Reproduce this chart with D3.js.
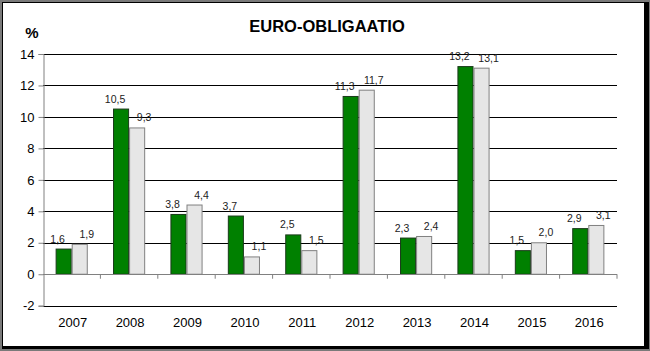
<!DOCTYPE html>
<html>
<head>
<meta charset="utf-8">
<script src="https://cdn.jsdelivr.net/npm/d3@7"></script>
<style>
  body { margin: 0; background: #fff; }
  svg { display: block; font-family: "Liberation Sans", Arial, sans-serif; }
</style>
</head>
<body>
<div id="chart"></div>
<script>
// chart data
const years = ["2007", "2008", "2009", "2010", "2011", "2012", "2013", "2014", "2015", "2016"];
const seriesGreen = [1.6, 10.5, 3.8, 3.7, 2.5, 11.3, 2.3, 13.2, 1.5, 2.9];
const seriesGray = [1.9, 9.3, 4.4, 1.1, 1.5, 11.7, 2.4, 13.1, 2.0, 3.1];
const yTicks = [-2, 0, 2, 4, 6, 8, 10, 12, 14];

const width = 650;
const height = 351;

const svg = d3.select("#chart")
    .append("svg")
    .attr("width", width)
    .attr("height", height);

// frame
svg.append("rect").attr("x", 0).attr("y", 0).attr("width", width).attr("height", height).attr("fill", "#7a7a7a");
svg.append("rect").attr("x", 2).attr("y", 2).attr("width", 647).attr("height", 347).attr("fill", "#000");
svg.append("rect").attr("x", 3).attr("y", 3).attr("width", 641).attr("height", 343).attr("fill", "#fff");

const plotLeft = 43, plotRight = 617, plotTop = 54, plotBottom = 305.7;

const x = d3.scaleBand()
    .domain(years)
    .range([plotLeft, plotRight])
    .padding(0);

const y = d3.scaleLinear()
    .domain([-2, 14])
    .range([plotBottom, plotTop]);

// gridlines
svg.append("g")
    .selectAll("line")
    .data(yTicks.filter(d => d !== 0))
    .enter().append("line")
    .attr("x1", plotLeft)
    .attr("x2", plotRight)
    .attr("y1", d => Math.round(y(d)) + 0.5)
    .attr("y2", d => Math.round(y(d)) + 0.5)
    .attr("stroke", "#000")
    .attr("stroke-width", 1);

// bars
const groupW = x.bandwidth() * 0.56;
const sub = d3.scaleBand().domain(["g", "w"]).range([0, groupW]);

const rows = years.map((yr, i) => ({ year: yr, g: seriesGreen[i], w: seriesGray[i] }));

const groups = svg.append("g")
    .selectAll("g")
    .data(rows)
    .enter().append("g")
    .attr("transform", d => `translate(${x(d.year) + (x.bandwidth() - groupW) / 2},0)`);

groups.selectAll("rect")
    .data(d => ["g", "w"].map(k => ({ key: k, value: d[k] })))
    .enter().append("rect")
    .attr("x", d => sub(d.key) + 0.5)
    .attr("y", d => y(d.value))
    .attr("width", sub.bandwidth() - 1)
    .attr("height", d => y(0) - y(d.value))
    .attr("fill", d => d.key === "g" ? "#008000" : "#e6e6e6")
    .attr("stroke", d => d.key === "g" ? "#1a3a1a" : "#808080")
    .attr("stroke-width", 1);

// value labels
const fmt = v => v.toFixed(1).replace(".", ",");
groups.selectAll("text")
    .data(d => ["g", "w"].map(k => ({ key: k, value: d[k] })))
    .enter().append("text")
    .attr("x", d => sub(d.key) + sub.bandwidth() / 2 + (d.key === "g" ? -6 : 7))
    .attr("y", d => y(d.value) - 6.5)
    .attr("text-anchor", "middle")
    .attr("font-size", "10.5px")
    .attr("fill", "#222")
    .text(d => fmt(d.value));

// zero line
svg.append("line")
    .attr("x1", plotLeft).attr("x2", plotRight)
    .attr("y1", Math.round(y(0)) + 0.5).attr("y2", Math.round(y(0)) + 0.5)
    .attr("stroke", "#808080");

// category ticks on zero line
svg.append("g")
    .selectAll("line")
    .data(years.slice(1).concat(["end"]))
    .enter().append("line")
    .attr("x1", d => d === "end" ? plotRight : x(d))
    .attr("x2", d => d === "end" ? plotRight : x(d))
    .attr("y1", y(0))
    .attr("y2", y(0) + 4.5)
    .attr("stroke", "#808080");

// y axis
const yAxis = svg.append("g")
    .attr("transform", `translate(${plotLeft + 0.5},0)`)
    .call(d3.axisLeft(y).tickValues(yTicks).tickFormat(d => String(d)).tickSize(5).tickPadding(4));
yAxis.select(".domain").attr("stroke", "#808080");
yAxis.selectAll(".tick line").attr("stroke", "#808080");
yAxis.selectAll(".tick text")
    .attr("font-size", "13px")
    .attr("font-family", "Liberation Sans, Arial, sans-serif")
    .attr("fill", "#000");

// x labels
svg.append("g")
    .selectAll("text")
    .data(years)
    .enter().append("text")
    .attr("x", d => x(d) + x.bandwidth() / 2 + 1)
    .attr("y", 327)
    .attr("text-anchor", "middle")
    .attr("font-size", "13px")
    .attr("fill", "#000")
    .text(d => d);

// title and unit
svg.append("text")
    .attr("x", 327)
    .attr("y", 32)
    .attr("text-anchor", "middle")
    .attr("font-size", "16.5px")
    .attr("font-weight", "bold")
    .attr("fill", "#000")
    .text("EURO-OBLIGAATIO");

svg.append("text")
    .attr("x", 32)
    .attr("y", 38)
    .attr("text-anchor", "middle")
    .attr("font-size", "15px")
    .attr("font-weight", "bold")
    .attr("fill", "#000")
    .text("%");
</script>
</body>
</html>
